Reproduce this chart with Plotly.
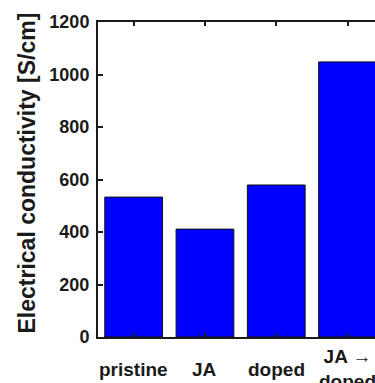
import plotly.graph_objects as go

# Conductivity of each film treatment
categories = ["pristine", "JA", "doped", "JA \u2192<br>doped"]
conductivity = [533, 411, 579, 1048]
y_ticks = [0, 200, 400, 600, 800, 1000, 1200]

FONT = "Arial, Liberation Sans, sans-serif"
INK = "#1a1a1a"

fig = go.Figure()
fig.add_trace(go.Bar(
    x=list(range(len(categories))),
    y=conductivity,
    marker=dict(color="#0000ff", line=dict(color="#111111", width=1)),
    width=0.81,
))

# category labels, centred vertically below the axis
for i, label in enumerate(categories):
    fig.add_annotation(
        x=i, xref="x", y=-0.102, yref="paper",
        text=label, showarrow=False,
        xanchor="center", yanchor="middle",
        font=dict(family=FONT, size=19, color=INK, weight="bold"),
    )

# y-axis title
fig.add_annotation(
    x=0, xref="paper", xshift=-71, y=0.519, yref="paper",
    text="Electrical conductivity [S/cm]", textangle=-90, showarrow=False,
    xanchor="center", yanchor="middle",
    font=dict(family=FONT, size=23, color=INK, weight="bold"),
)

fig.update_layout(
    width=375, height=383,
    margin=dict(l=98, r=0, t=22, b=46),
    paper_bgcolor="white", plot_bgcolor="white",
    showlegend=False,
    xaxis=dict(
        range=[-0.5, 3.385], tickvals=list(range(len(categories))),
        showticklabels=False, ticks="inside", ticklen=4, tickwidth=2,
        tickcolor=INK, showline=True, linecolor=INK, linewidth=2,
        mirror="ticks", showgrid=False, zeroline=False,
    ),
    yaxis=dict(
        range=[0, 1200], tickvals=y_ticks,
        ticks="inside", ticklen=5, tickwidth=2, tickcolor=INK,
        showline=True, linecolor=INK, linewidth=2, showgrid=False,
        zeroline=False, ticklabelstandoff=3,
        tickfont=dict(family=FONT, size=18, color=INK, weight="bold"),
    ),
)

fig.write_html("out.html")
